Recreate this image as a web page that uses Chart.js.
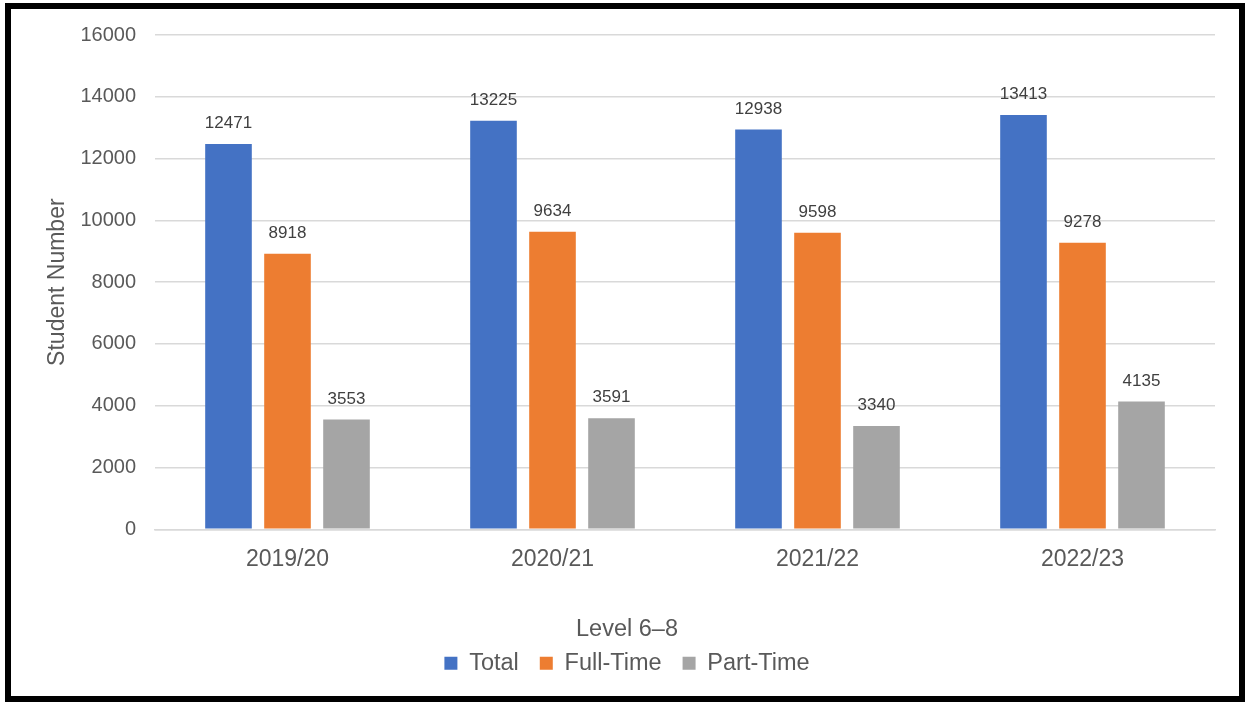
<!DOCTYPE html>
<html>
<head>
<meta charset="utf-8">
<script src="https://cdn.jsdelivr.net/npm/chart.js@4.4.1/dist/chart.umd.min.js"></script>
<style>
  html, body { margin: 0; padding: 0; background: #fff; }
  #frame {
    position: absolute; left: 5px; top: 3px;
    width: 1240px; height: 699px;
    box-sizing: border-box;
    border: 6px solid #000;
    background: #fff;
  }
  #chart { display: block; }
</style>
</head>
<body>
<div id="frame"><canvas id="chart" width="1228" height="687"></canvas></div>
<script>
// Student numbers, Level 6-8
var years     = ['2019/20', '2020/21', '2021/22', '2022/23'];
var totalVals = [12471, 13225, 12938, 13413];
var fullVals  = [8918, 9634, 9598, 9278];
var partVals  = [3553, 3591, 3340, 4135];
var yTicks    = [0, 2000, 4000, 6000, 8000, 10000, 12000, 14000, 16000];

var FONT = '"Liberation Sans", Arial, sans-serif';

// value written above each bar
var barLabels = {
  id: 'barLabels',
  afterDatasetsDraw: function(chart) {
    var ctx = chart.ctx;
    ctx.save();
    ctx.font = '17px ' + FONT;
    ctx.fillStyle = '#404040';
    ctx.textAlign = 'center';
    ctx.textBaseline = 'alphabetic';
    chart.data.datasets.forEach(function(ds, i) {
      chart.getDatasetMeta(i).data.forEach(function(bar, j) {
        ctx.fillText(String(ds.data[j]), bar.x, bar.y - 16);
      });
    });
    ctx.restore();
  }
};

new Chart(document.getElementById('chart'), {
  type: 'bar',
  data: {
    labels: years,
    datasets: [
      { label: 'Total',     data: totalVals, backgroundColor: '#4472C4' },
      { label: 'Full-Time', data: fullVals,  backgroundColor: '#ED7D31' },
      { label: 'Part-Time', data: partVals,  backgroundColor: '#A5A5A5' }
    ]
  },
  options: {
    responsive: false,
    animation: false,
    categoryPercentage: 0.668,
    barPercentage: 0.79,
    layout: { padding: { top: 20, right: 0, left: 4, bottom: 11 } },
    plugins: {
      tooltip: { enabled: false },
      title: {
        display: true,
        text: 'Level 6–8',
        position: 'bottom',
        weight: 500,
        color: '#595959',
        font: { family: FONT, size: 23.5, weight: 'normal' },
        padding: { top: 6, bottom: -13 }
      },
      legend: {
        position: 'bottom',
        weight: 1000,
        labels: {
          color: '#595959',
          font: { family: FONT, size: 23.5 },
          boxWidth: 13,
          boxHeight: 13,
          padding: 21
        }
      }
    },
    scales: {
      x: {
        afterFit: function(s) { s.height = 80; },
        grid: { display: false, drawTicks: false },
        border: { display: true, color: '#d9d9d9', width: 1.5 },
        ticks: {
          color: '#595959',
          padding: 17,
          font: { family: FONT, size: 23 }
        }
      },
      y: {
        min: 0,
        max: 16000,
        afterFit: function(s) { s.width = 140; },
        afterBuildTicks: function(s) {
          s.ticks = yTicks.map(function(v) { return { value: v }; });
        },
        grid: { color: '#d9d9d9', lineWidth: 1.5, drawTicks: false },
        border: { display: false },
        ticks: {
          color: '#595959',
          padding: 19,
          font: { family: FONT, size: 20, lineHeight: 0.7 },
          callback: function(v) { return String(v); }
        },
        title: {
          display: true,
          text: 'Student Number',
          color: '#595959',
          font: { family: FONT, size: 23 },
          padding: { top: 29, bottom: 0 }
        }
      },
      // empty strip on the right side of the plot
      yRight: {
        position: 'right',
        afterFit: function(s) { s.width = 24; },
        grid: { display: false },
        border: { display: false },
        ticks: { display: false }
      }
    }
  },
  plugins: [barLabels]
});
</script>
</body>
</html>
